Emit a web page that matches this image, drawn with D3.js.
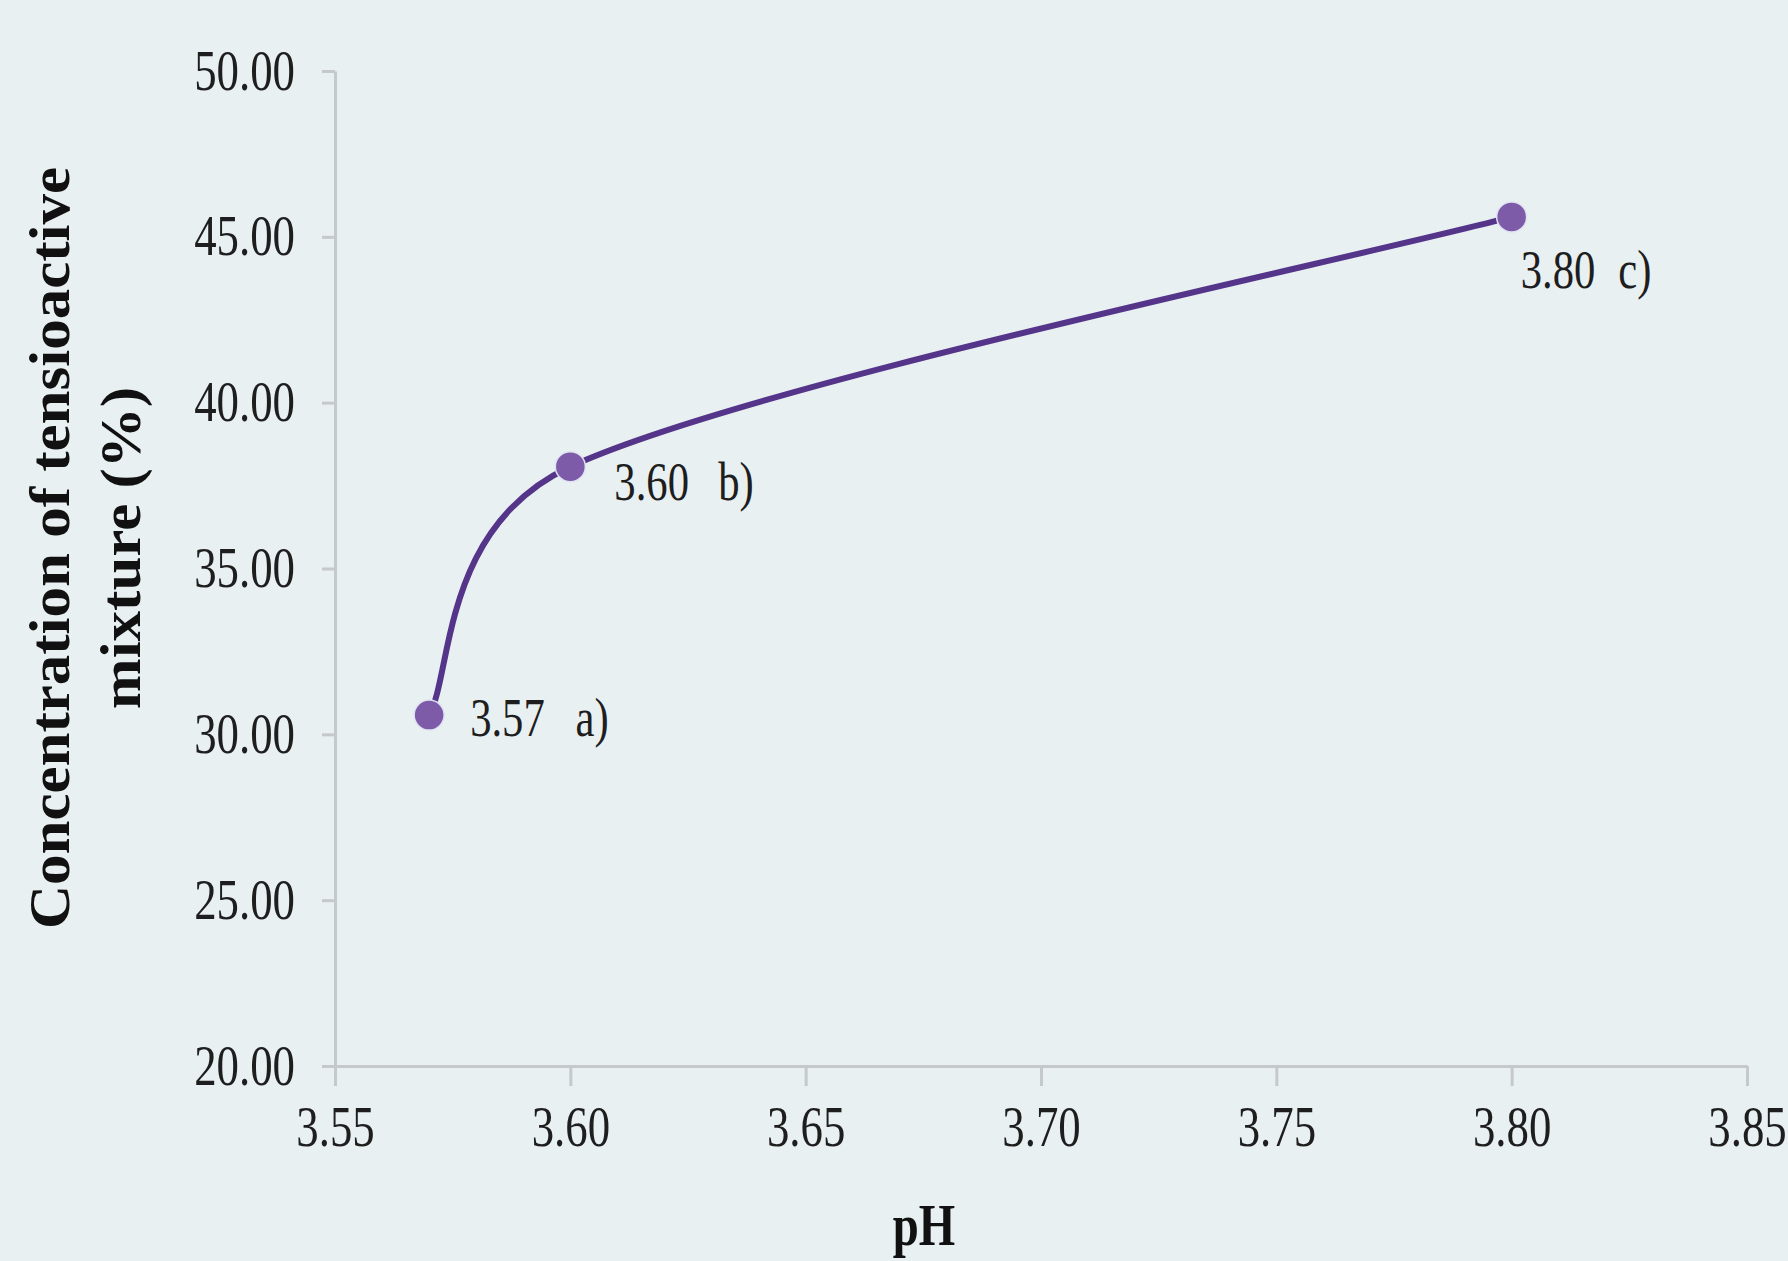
<!DOCTYPE html>
<html><head><meta charset="utf-8">
<script src="https://cdn.jsdelivr.net/npm/d3@7"></script>
<style>
html,body{margin:0;padding:0;background:#e9f0f2;}
svg{display:block;}
</style>
</head><body>
<svg id="chart" width="1788" height="1261"></svg>
<script>
// pH of each sample and the tensioactive concentration measured at it
const phValues = [3.57, 3.60, 3.80];
const concentrations = [30.58, 38.07, 45.60];
const pointLetters = ["a)", "b)", "c)"];
const xTicks = [3.55, 3.60, 3.65, 3.70, 3.75, 3.80, 3.85];
const yTicks = [20, 25, 30, 35, 40, 45, 50];
const xTitle = "pH";
const yTitleLines = ["Concentration of tensioactive", "mixture (%)"];

// label placement relative to each marker: [dx, dy, gap before letter]
const labelLayout = [[41, 21, 39], [44, 33, 37], [9, 71, 29]];

const W = 1788, H = 1261;
const plot = {left: 335, right: 1747, top: 71, bottom: 1066};
const serif = "'Liberation Serif','Times New Roman',serif";
const squeeze = 0.8;      // the typeface is set narrow
const axisColor = "#c6c9ca";

// Spreadsheet-style smoothed line: cubic Béziers with 1/6 tangents,
// capped at half the segment length so short segments do not overshoot.
function curveSpreadsheetSmooth(context) {
  let pts;
  return {
    areaStart() {}, areaEnd() {},
    lineStart() { pts = []; },
    point(px, py) { pts.push([+px, +py]); },
    lineEnd() {
      const n = pts.length;
      if (!n) return;
      context.moveTo(pts[0][0], pts[0][1]);
      const dist = (p, q) => Math.hypot(q[0] - p[0], q[1] - p[1]);
      for (let i = 0; i < n - 1; i++) {
        const p0 = pts[Math.max(i - 1, 0)], p1 = pts[i], p2 = pts[i + 1], p3 = pts[Math.min(i + 2, n - 1)];
        const d02 = dist(p0, p2), d12 = dist(p1, p2), d13 = dist(p1, p3);
        const f1 = d02 / 6 < d12 / 2 ? 1 / 6 : d12 / (2 * d02);
        const f2 = d13 / 6 < d12 / 2 ? 1 / 6 : d12 / (2 * d13);
        context.bezierCurveTo(
          p1[0] + f1 * (p2[0] - p0[0]), p1[1] + f1 * (p2[1] - p0[1]),
          p2[0] - f2 * (p3[0] - p1[0]), p2[1] - f2 * (p3[1] - p1[1]),
          p2[0], p2[1]);
      }
    }
  };
}

const svg = d3.select("#chart");
svg.append("rect").attr("width", W).attr("height", H).attr("fill", "#e9f0f2");

const x = d3.scaleLinear().domain([3.55, 3.85]).range([plot.left, plot.right]);
const y = d3.scaleLinear().domain([20, 50]).range([plot.bottom, plot.top]);

// x axis
const gx = svg.append("g")
  .attr("transform", `translate(0,${plot.bottom})`)
  .call(d3.axisBottom(x).tickValues(xTicks).tickFormat(d3.format(".2f"))
    .tickSize(20).tickSizeOuter(0).tickPadding(0));
// y axis
const gy = svg.append("g")
  .attr("transform", `translate(${plot.left},0)`)
  .call(d3.axisLeft(y).tickValues(yTicks).tickFormat(d3.format(".2f"))
    .tickSize(13).tickSizeOuter(0).tickPadding(0));

[gx, gy].forEach(g => {
  g.select(".domain").attr("stroke", axisColor).attr("stroke-width", 3);
  g.selectAll(".tick line").attr("stroke", axisColor).attr("stroke-width", 3);
  g.selectAll(".tick text")
    .attr("fill", "#1e1e1e")
    .style("font-family", serif)
    .style("font-size", "56px");
});
gx.selectAll(".tick text")
  .attr("y", 80).attr("dy", 0)
  .attr("transform", `scale(${squeeze},1)`);
gy.selectAll(".tick text")
  .attr("x", -40 / squeeze).attr("dy", 0).attr("y", 18)
  .attr("transform", `scale(${squeeze},1)`);

// smoothed curve through the samples
const pts = phValues.map((p, i) => ({ph: p, c: concentrations[i], letter: pointLetters[i]}));
const line = d3.line()
  .x(d => x(d.ph)).y(d => y(d.c))
  .curve(curveSpreadsheetSmooth);
svg.append("path")
  .datum(pts)
  .attr("d", line)
  .attr("fill", "none")
  .attr("stroke", "#55358a")
  .attr("stroke-width", 6)
  .attr("stroke-linecap", "round");

svg.selectAll("circle.pt")
  .data(pts).join("circle")
  .attr("class", "pt")
  .attr("cx", d => x(d.ph)).attr("cy", d => y(d.c))
  .attr("r", 15)
  .attr("fill", "#7d5ba9")
  .attr("stroke", "#dfe3f2").attr("stroke-width", 1.5);

// value labels next to each marker
const labels = svg.selectAll("text.lbl")
  .data(pts).join("text")
  .attr("class", "lbl")
  .attr("transform", (d, i) =>
    `translate(${x(d.ph) + labelLayout[i][0]},${y(d.c) + labelLayout[i][1]}) scale(0.79,1)`)
  .attr("fill", "#1e1e1e")
  .style("font-family", serif)
  .style("font-size", "54px");
labels.append("tspan").text(d => d.ph.toFixed(2));
labels.append("tspan").attr("dx", (d, i) => labelLayout[i][2]).text(d => d.letter);

// axis titles
svg.append("text")
  .attr("transform", `translate(924,1245) scale(0.78,1)`)
  .attr("text-anchor", "middle")
  .attr("fill", "#111")
  .style("font-family", serif).style("font-weight", "bold").style("font-size", "60px")
  .text(xTitle);

const yt = svg.append("g").attr("transform", "translate(0,548) rotate(-90)");
yTitleLines.forEach((t, i) => {
  yt.append("text")
    .attr("transform", `translate(0,${i === 0 ? 69 : 140}) scale(1.07,1)`)
    .attr("text-anchor", "middle")
    .attr("fill", "#111")
    .style("font-family", serif).style("font-weight", "bold").style("font-size", "57px")
    .text(t);
});
</script>
</body></html>
